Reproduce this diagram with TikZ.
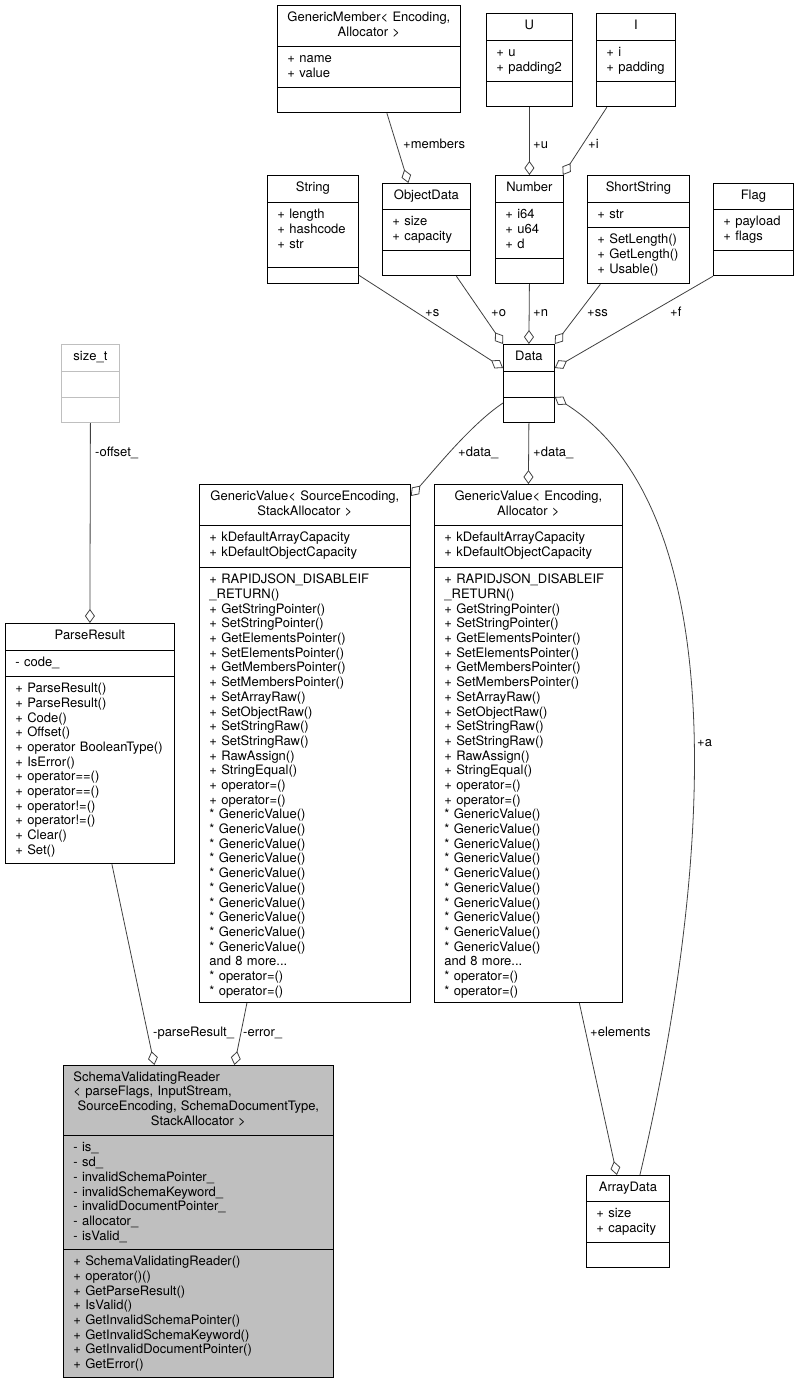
\documentclass[tikz,border=0pt]{standalone}
\usepackage{fontspec}
\setmainfont{TeX Gyre Heros}
\usetikzlibrary{shapes.multipart, arrows.meta}

\definecolor{edgegray}{HTML}{404040}
\definecolor{classgray}{HTML}{BFBFBF}
\newcommand{\umlfont}{\fontsize{13pt}{14.7pt}\selectfont}
% compartments of a class box
\newcommand{\clshead}[2]{\parbox[c][#1pt][c]{\linewidth}{\centering\leftskip=-8pt plus 1fil\rightskip=-8pt plus 1fil\strut #2\strut\par}}
\newcommand{\clsbody}[2]{\parbox[c][#1pt][t]{\linewidth}{\vspace*{6pt}\raggedright\rightskip=-15pt plus 1fil\strut #2\par}}
\newcommand{\clsempty}[1]{\parbox[c][#1pt][c]{\linewidth}{\mbox{}}}
\newcommand{\gvmethods}{+ RAPIDJSON\_DISABLEIF\\\_RETURN()\\+ GetStringPointer()\\+ SetStringPointer()\\+ GetElementsPointer()\\+ SetElementsPointer()\\+ GetMembersPointer()\\+ SetMembersPointer()\\+ SetArrayRaw()\\+ SetObjectRaw()\\+ SetStringRaw()\\+ SetStringRaw()\\+ RawAssign()\\+ StringEqual()\\+ operator=()\\+ operator=()\\{*} GenericValue()\\{*} GenericValue()\\{*} GenericValue()\\{*} GenericValue()\\{*} GenericValue()\\{*} GenericValue()\\{*} GenericValue()\\{*} GenericValue()\\{*} GenericValue()\\{*} GenericValue()\\and 8 more...\\{*} operator=()\\{*} operator=()}

\begin{document}
\begin{tikzpicture}[
    x=1pt, y=-1pt,
    umlclass/.style={rectangle split, rectangle split parts=3, draw=black, fill=white, line width=0.8pt, inner xsep=10pt, inner ysep=0pt, font=\umlfont, anchor=north west},
    mainclass/.style={umlclass, fill=classgray},
    extclass/.style={umlclass, draw=classgray},
    aggr/.style={draw=edgegray, line width=0.8pt, -{Diamond[open, length=14pt, width=10pt]}},
    role/.style={font=\umlfont, inner sep=0pt, anchor=base west}
]
\useasboundingbox (0,0) rectangle (797,1381);

% Members of Data
\node[umlclass, text width=163pt] (gmember) at (277,5) {\clshead{40}{GenericMember< Encoding,\\Allocator >}\nodepart{two}\clsbody{40}{+ name\\+ value}\nodepart{three}\clsempty{25}};
\node[umlclass, text width=66pt] (ustruct) at (486,13) {\clshead{26}{U}\nodepart{two}\clsbody{40}{+ u\\+ padding2}\nodepart{three}\clsempty{25}};
\node[umlclass, text width=59pt] (istruct) at (596,13) {\clshead{26}{I}\nodepart{two}\clsbody{40}{+ i\\+ padding}\nodepart{three}\clsempty{25}};
\node[umlclass, text width=71pt] (string) at (267,175) {\clshead{26}{String}\nodepart{two}\clsbody{64}{+ length\\+ hashcode\\+ str}\nodepart{three}\clsempty{16}};
\node[umlclass, text width=68pt] (objdata) at (382,183) {\clshead{25}{ObjectData}\nodepart{two}\clsbody{40}{+ size\\+ capacity}\nodepart{three}\clsempty{25}};
\node[umlclass, text width=48pt] (number) at (495,175) {\clshead{26}{Number}\nodepart{two}\clsbody{55}{+ i64\\+ u64\\+ d}\nodepart{three}\clsempty{25}};
\node[umlclass, text width=82pt] (shortstr) at (587,175) {\clshead{26}{ShortString}\nodepart{two}\clsbody{24}{+ str}\nodepart{three}\clsbody{56}{+ SetLength()\\+ GetLength()\\+ Usable()}};
\node[umlclass, text width=60pt] (flag) at (713,183) {\clshead{25}{Flag}\nodepart{two}\clsbody{40}{+ payload\\+ flags}\nodepart{three}\clsempty{25}};
\node[umlclass, text width=31pt] (data) at (503,344) {\clshead{26}{Data}\nodepart{two}\clsempty{25}\nodepart{three}\clsempty{25}};

% Values and results
\node[extclass, text width=38pt] (sizet) at (61,344) {\clshead{26}{size\_t}\nodepart{two}\clsempty{25}\nodepart{three}\clsempty{25}};
\node[umlclass, text width=149pt] (parseres) at (5,623) {\clshead{26}{ParseResult}\nodepart{two}\clsbody{25}{- code\_}\nodepart{three}\clsbody{187}{+ ParseResult()\\+ ParseResult()\\+ Code()\\+ Offset()\\+ operator BooleanType()\\+ IsError()\\+ operator==()\\+ operator==()\\+ operator!=()\\+ operator!=()\\+ Clear()\\+ Set()}};
\node[umlclass, text width=191pt] (gvsa) at (199,484) {\clshead{40}{GenericValue< SourceEncoding,\\StackAllocator >}\nodepart{two}\clsbody{41}{+ kDefaultArrayCapacity\\+ kDefaultObjectCapacity}\nodepart{three}\clsbody{435}{\gvmethods}};
\node[umlclass, text width=168pt] (gvea) at (434,484) {\clshead{40}{GenericValue< Encoding,\\Allocator >}\nodepart{two}\clsbody{41}{+ kDefaultArrayCapacity\\+ kDefaultObjectCapacity}\nodepart{three}\clsbody{435}{\gvmethods}};
\node[umlclass, text width=63pt] (arraydata) at (586,1175) {\clshead{25}{ArrayData}\nodepart{two}\clsbody{40}{+ size\\+ capacity}\nodepart{three}\clsempty{25}};

% The reader itself
\node[mainclass, text width=250pt] (svr) at (63,1065) {\parbox[c][69pt][c]{\linewidth}{\raggedright\rightskip=-10pt plus 1fil\strut SchemaValidatingReader\\< parseFlags, InputStream,\par\centering\leftskip=-10pt plus 1fil\rightskip=-10pt plus 1fil SourceEncoding, SchemaDocumentType,\\StackAllocator >\strut\par}\nodepart{two}\clsbody{113}{- is\_\\- sd\_\\- invalidSchemaPointer\_\\- invalidSchemaKeyword\_\\- invalidDocumentPointer\_\\- allocator\_\\- isValid\_}\nodepart{three}\clsbody{128}{+ SchemaValidatingReader()\\+ operator()()\\+ GetParseResult()\\+ IsValid()\\+ GetInvalidSchemaPointer()\\+ GetInvalidSchemaKeyword()\\+ GetInvalidDocumentPointer()\\+ GetError()}};

% Aggregations
\draw[aggr] ([xshift=18pt]gmember.south) -- ([xshift=-18pt]objdata.north);
\draw[aggr] (ustruct.south) -- (number.north);
\draw[aggr] ([xshift=-29pt]istruct.south) -- ([xshift=-1pt]number.north east);
\draw[aggr] ([yshift=9pt]string.south east) -- ([yshift=-24pt]data.north west);
\draw[aggr] ([xshift=30pt]objdata.south) -- (data.north west);
\draw[aggr] (number.south) -- (data.north);
\draw[aggr] ([xshift=-38pt]shortstr.south) -- (data.north east);
\draw[aggr] (flag.south west) -- ([yshift=-24pt]data.north east);
\draw[aggr] ([yshift=-59pt]data.north west) .. controls +(-33,22) and +(22,-24) .. ([yshift=-12pt]gvsa.north east);
\draw[aggr] (data.south) -- (gvea.north);
\draw[aggr] ([xshift=12pt]arraydata.north) .. controls +(65,-275) and +(189,121) .. ([yshift=-53pt]data.north east);
\draw[aggr] ([xshift=51pt]gvea.south) -- ([xshift=-11pt]arraydata.north);
\draw[aggr] (sizet.south) -- (parseres.north);
\draw[aggr] ([xshift=22pt]parseres.south) -- ([xshift=-44pt]svr.north);
\draw[aggr] ([xshift=-58pt]gvsa.south) -- ([xshift=36pt]svr.north);

% Role names
\node[role] (r-members) at (403,148) {+members};
\node[role] (r-u) at (533,148) {+u};
\node[role] (r-i) at (588,148) {+i};
\node[role] (r-s) at (425,316) {+s};
\node[role] (r-o) at (491,316) {+o};
\node[role] (r-n) at (533,316) {+n};
\node[role] (r-ss) at (587,316) {+ss};
\node[role] (r-f) at (670,316) {+f};
\node[role] (r-offset) at (95,456) {-offset\_};
\node[role] (r-datal) at (458,456) {+data\_};
\node[role] (r-datar) at (533,456) {+data\_};
\node[role] (r-a) at (697,746) {+a};
\node[role] (r-parse) at (153,1036) {-parseResult\_};
\node[role] (r-error) at (243,1036) {-error\_};
\node[role] (r-elements) at (590,1036) {+elements};

\end{tikzpicture}
\end{document}
